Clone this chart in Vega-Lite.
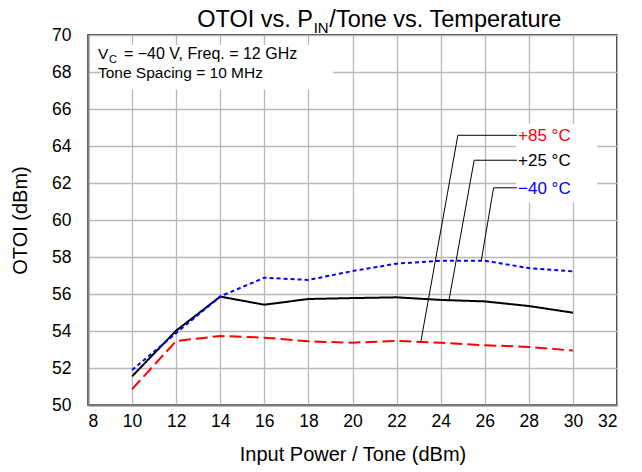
{
  "$schema": "https://vega.github.io/schema/vega-lite/v6.json",
  "width": 529,
  "height": 370,
  "autosize": {"type": "none"},
  "padding": {"left": 88, "top": 35, "right": 25, "bottom": 67},
  "background": "white",
  "config": {
    "font": "Liberation Sans",
    "view": {"stroke": "black", "strokeWidth": 1.5},
    "axis": {
      "domainColor": "#808080",
      "domainWidth": 2,
      "gridColor": "#b8b8b8",
      "gridWidth": 1.3,
      "ticks": false,
      "labelColor": "black",
      "titleColor": "black",
      "labelFont": "Liberation Sans",
      "titleFont": "Liberation Sans",
      "titleFontWeight": "normal",
      "labelFontSize": 17.5,
      "titleFontSize": 20
    }
  },
  "datasets": {
    "series": [
      {"pin": 10, "otoi": 50.86, "temp": "+85 °C"},
      {"pin": 12, "otoi": 53.46, "temp": "+85 °C"},
      {"pin": 14, "otoi": 53.73, "temp": "+85 °C"},
      {"pin": 16, "otoi": 53.64, "temp": "+85 °C"},
      {"pin": 18, "otoi": 53.44, "temp": "+85 °C"},
      {"pin": 20, "otoi": 53.37, "temp": "+85 °C"},
      {"pin": 22, "otoi": 53.46, "temp": "+85 °C"},
      {"pin": 24, "otoi": 53.37, "temp": "+85 °C"},
      {"pin": 26, "otoi": 53.23, "temp": "+85 °C"},
      {"pin": 28, "otoi": 53.14, "temp": "+85 °C"},
      {"pin": 30, "otoi": 52.94, "temp": "+85 °C"},
      {"pin": 10, "otoi": 51.55, "temp": "+25 °C"},
      {"pin": 12, "otoi": 54.02, "temp": "+25 °C"},
      {"pin": 14, "otoi": 55.86, "temp": "+25 °C"},
      {"pin": 16, "otoi": 55.42, "temp": "+25 °C"},
      {"pin": 18, "otoi": 55.73, "temp": "+25 °C"},
      {"pin": 20, "otoi": 55.78, "temp": "+25 °C"},
      {"pin": 22, "otoi": 55.82, "temp": "+25 °C"},
      {"pin": 24, "otoi": 55.68, "temp": "+25 °C"},
      {"pin": 26, "otoi": 55.6, "temp": "+25 °C"},
      {"pin": 28, "otoi": 55.35, "temp": "+25 °C"},
      {"pin": 30, "otoi": 54.99, "temp": "+25 °C"},
      {"pin": 10, "otoi": 51.89, "temp": "−40 °C"},
      {"pin": 12, "otoi": 53.89, "temp": "−40 °C"},
      {"pin": 14, "otoi": 55.87, "temp": "−40 °C"},
      {"pin": 16, "otoi": 56.88, "temp": "−40 °C"},
      {"pin": 18, "otoi": 56.76, "temp": "−40 °C"},
      {"pin": 20, "otoi": 57.24, "temp": "−40 °C"},
      {"pin": 22, "otoi": 57.64, "temp": "−40 °C"},
      {"pin": 24, "otoi": 57.8, "temp": "−40 °C"},
      {"pin": 26, "otoi": 57.8, "temp": "−40 °C"},
      {"pin": 28, "otoi": 57.4, "temp": "−40 °C"},
      {"pin": 30, "otoi": 57.22, "temp": "−40 °C"}
    ],
    "leaders": [
      {"temp": "+85 °C", "ord": 1, "pin": 27.46, "otoi": 64.58},
      {"temp": "+85 °C", "ord": 2, "pin": 24.78, "otoi": 64.58},
      {"temp": "+85 °C", "ord": 3, "pin": 23.1, "otoi": 53.42},
      {"temp": "+25 °C", "ord": 1, "pin": 27.46, "otoi": 63.23},
      {"temp": "+25 °C", "ord": 2, "pin": 25.52, "otoi": 63.23},
      {"temp": "+25 °C", "ord": 3, "pin": 24.38, "otoi": 55.67},
      {"temp": "−40 °C", "ord": 1, "pin": 27.46, "otoi": 61.74},
      {"temp": "−40 °C", "ord": 2, "pin": 26.4, "otoi": 61.74},
      {"temp": "−40 °C", "ord": 3, "pin": 25.84, "otoi": 57.78}
    ],
    "boxes": [
      {"x1": 8.57, "x2": 19.13, "y1": 67.05, "y2": 69.46},
      {"x1": 27.42, "x2": 31.1, "y1": 60.95, "y2": 65.2}
    ],
    "labels": [
      {"temp": "+85 °C", "pin": 27.51, "otoi": 64.52},
      {"temp": "+25 °C", "pin": 27.51, "otoi": 63.17},
      {"temp": "−40 °C", "pin": 27.51, "otoi": 61.68}
    ]
  },
  "encoding": {
    "x": {"field": "pin", "type": "quantitative", "scale": {"domain": [8, 32], "nice": false}, "axis": {"values": [8, 10, 12, 14, 16, 18, 20, 22, 24, 26, 28, 30, 32], "title": "Input Power / Tone (dBm)", "labelPadding": 7, "titlePadding": 15}},
    "y": {"field": "otoi", "type": "quantitative", "scale": {"domain": [50, 70], "nice": false, "zero": false}, "axis": {"values": [50, 52, 54, 56, 58, 60, 62, 64, 66, 68, 70], "title": "OTOI (dBm)", "labelPadding": 17, "titlePadding": 21}}
  },
  "layer": [
    {
      "data": {"name": "boxes"},
      "mark": {"type": "rect", "fill": "white", "stroke": null},
      "encoding": {
        "x": {"field": "x1", "type": "quantitative"},
        "x2": {"field": "x2"},
        "y": {"field": "y1", "type": "quantitative"},
        "y2": {"field": "y2"}
      }
    },
    {
      "data": {"name": "series"},
      "mark": {"type": "line", "strokeWidth": 2},
      "encoding": {
        "color": {"field": "temp", "type": "nominal", "scale": {"domain": ["+85 °C", "+25 °C", "−40 °C"], "range": ["#ff0000", "#000000", "#0000ff"]}, "legend": null},
        "strokeDash": {"field": "temp", "type": "nominal", "scale": {"domain": ["+85 °C", "+25 °C", "−40 °C"], "range": [[12, 5], [1, 0], [4, 3]]}, "legend": null}
      }
    },
    {
      "data": {"name": "leaders"},
      "mark": {"type": "line", "color": "black", "strokeWidth": 1},
      "encoding": {
        "detail": {"field": "temp", "type": "nominal"},
        "order": {"field": "ord", "type": "quantitative"}
      }
    },
    {
      "data": {"name": "labels"},
      "mark": {"type": "text", "align": "left", "baseline": "middle", "fontSize": 17},
      "encoding": {
        "text": {"field": "temp"},
        "color": {"field": "temp", "type": "nominal", "scale": {"domain": ["+85 °C", "+25 °C", "−40 °C"], "range": ["#ff0000", "#000000", "#0000ff"]}, "legend": null}
      }
    },
    {
      "data": {"values": [{"t": "OTOI vs. P", "pin": 18.21, "otoi": 70.41}]},
      "mark": {"type": "text", "align": "right", "baseline": "alphabetic", "fontSize": 23.5, "color": "black"},
      "encoding": {"text": {"field": "t"}}
    },
    {
      "data": {"values": [{"t": "IN", "pin": 18.24, "otoi": 70.11}]},
      "mark": {"type": "text", "align": "left", "baseline": "alphabetic", "fontSize": 15, "color": "black"},
      "encoding": {"text": {"field": "t"}}
    },
    {
      "data": {"values": [{"t": "/Tone vs. Temperature", "pin": 18.95, "otoi": 70.41}]},
      "mark": {"type": "text", "align": "left", "baseline": "alphabetic", "fontSize": 23.5, "color": "black"},
      "encoding": {"text": {"field": "t"}}
    },
    {
      "data": {"values": [
        {"t": "V", "pin": 8.45, "otoi": 68.7},
        {"t": "Tone Spacing = 10 MHz", "pin": 8.45, "otoi": 67.68}
      ]},
      "mark": {"type": "text", "align": "left", "baseline": "alphabetic", "fontSize": 15.5, "color": "black"},
      "encoding": {"text": {"field": "t"}}
    },
    {
      "data": {"values": [{"t": "= −40 V, Freq. = 12 GHz", "pin": 9.63, "otoi": 68.7}]},
      "mark": {"type": "text", "align": "left", "baseline": "alphabetic", "fontSize": 16, "color": "black"},
      "encoding": {"text": {"field": "t"}}
    },
    {
      "data": {"values": [{"t": "C", "pin": 8.95, "otoi": 68.49}]},
      "mark": {"type": "text", "align": "left", "baseline": "alphabetic", "fontSize": 11, "color": "black"},
      "encoding": {"text": {"field": "t"}}
    }
  ]
}
